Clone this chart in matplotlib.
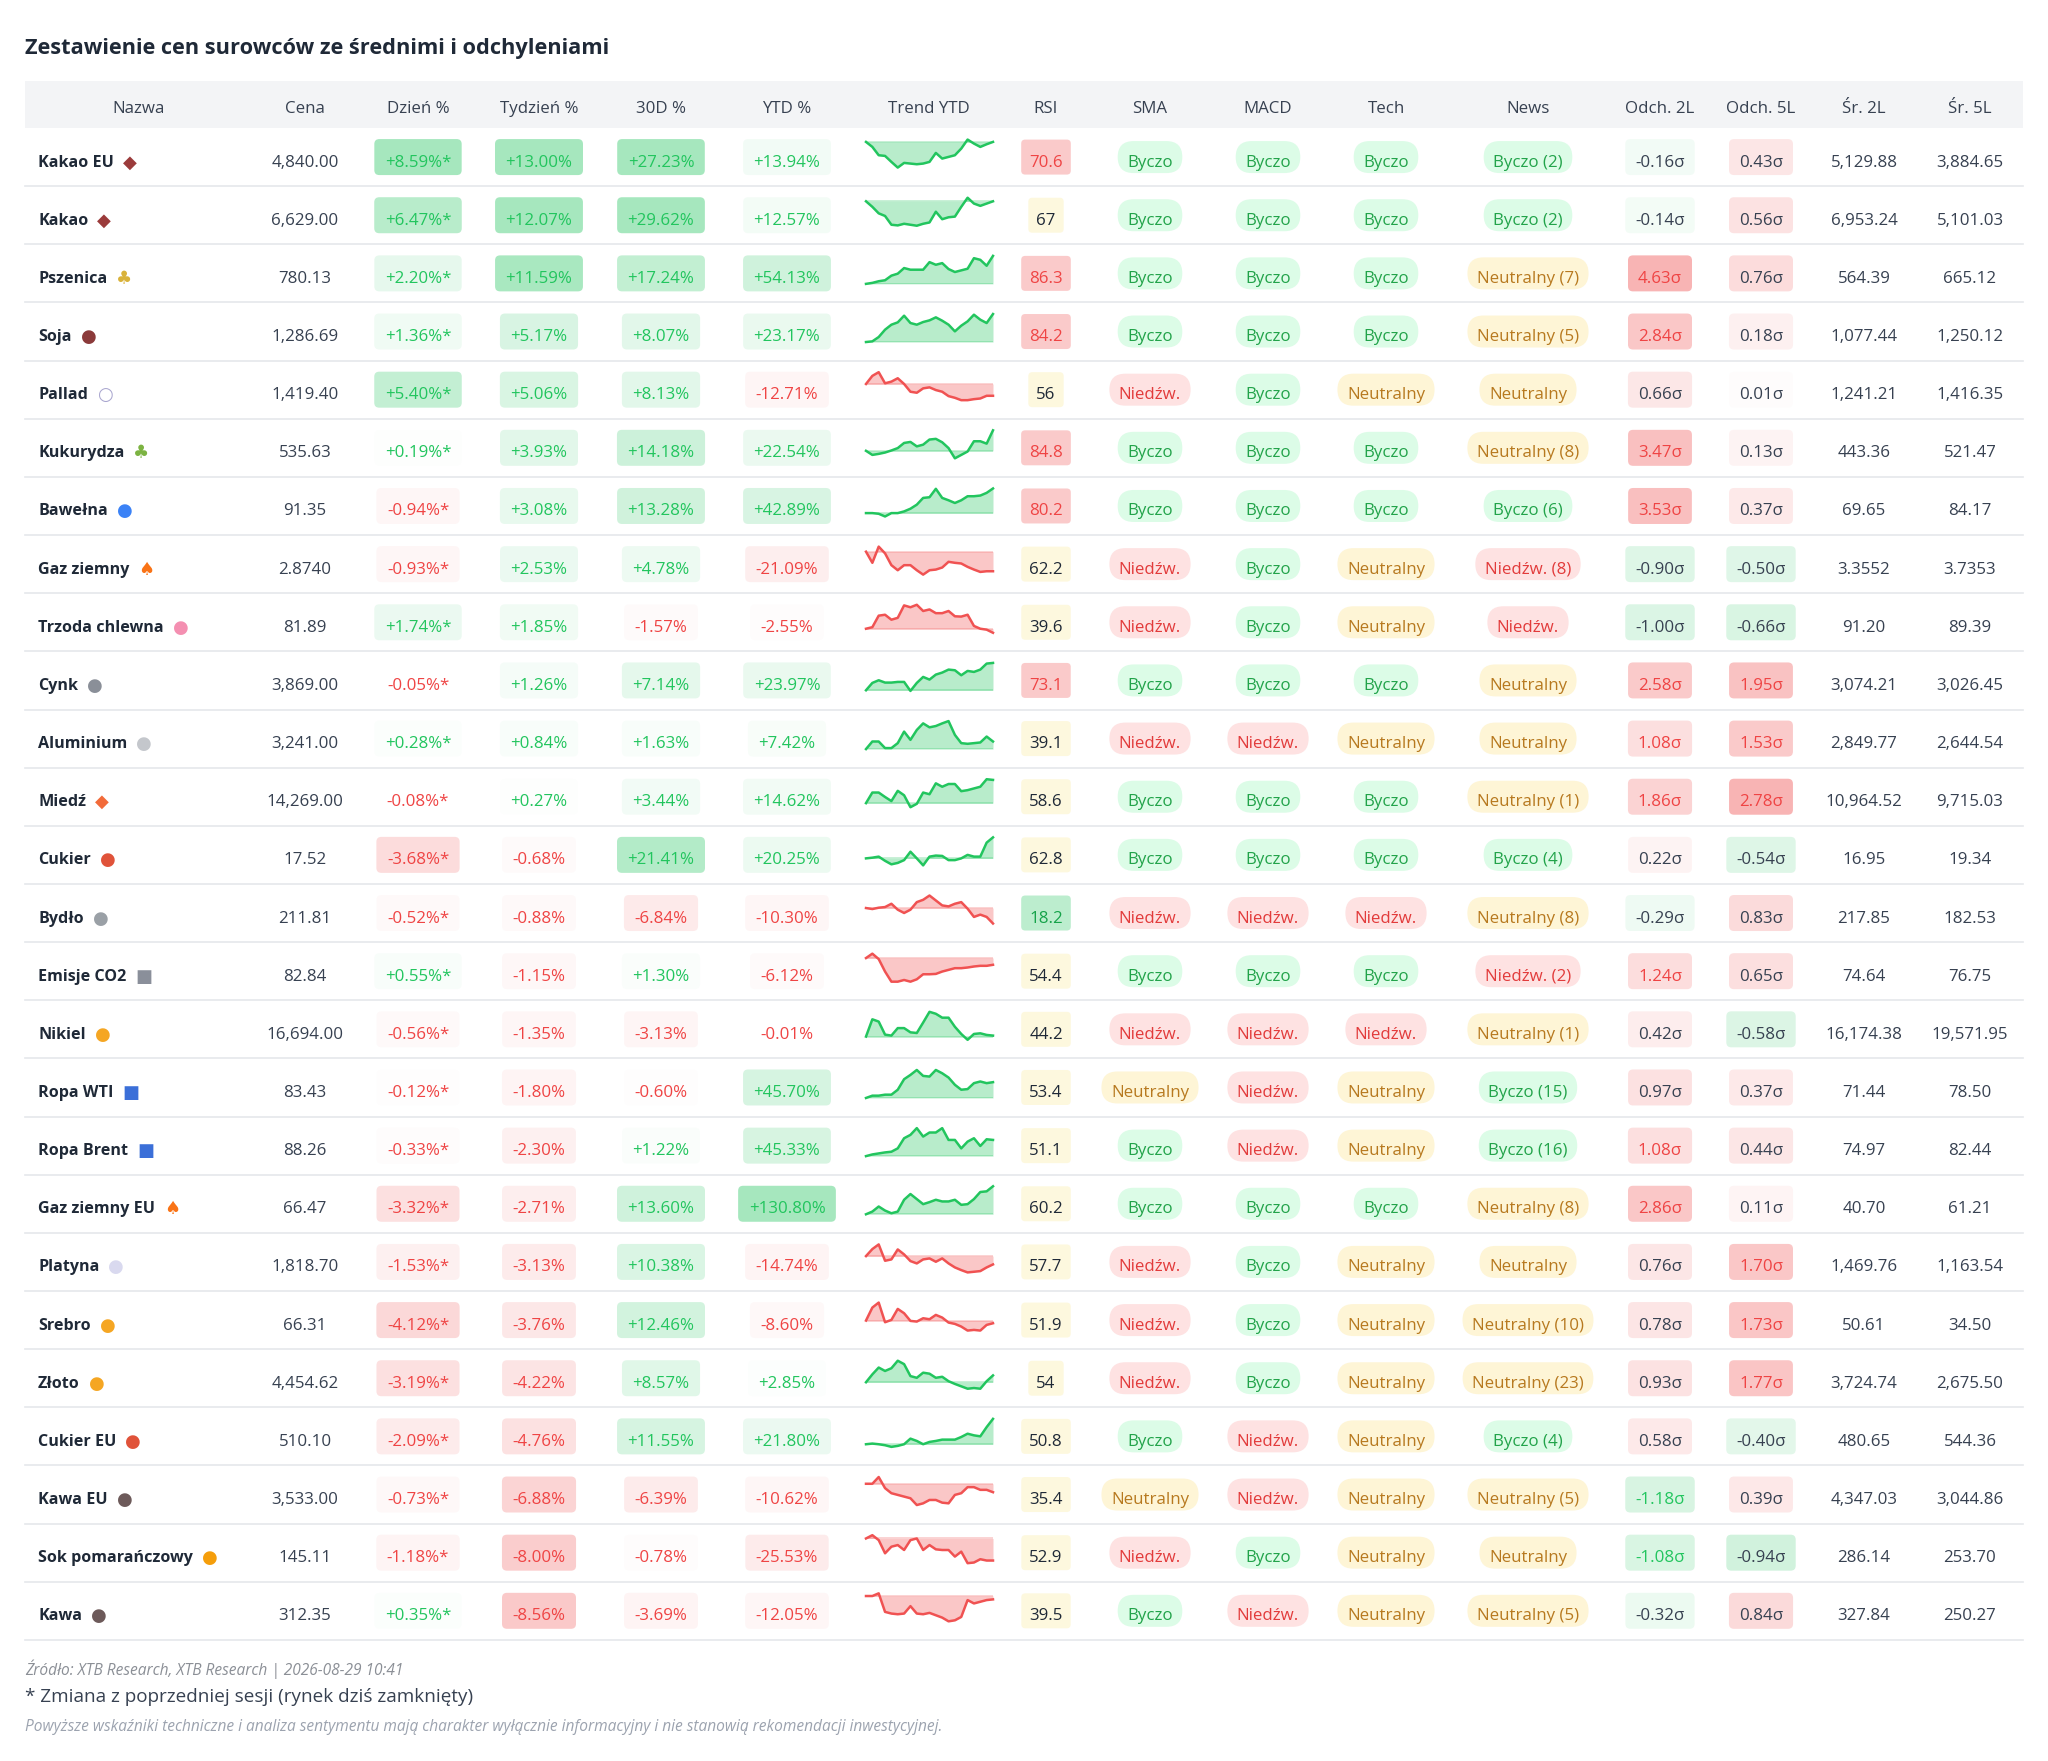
import matplotlib
matplotlib.use("Agg")
import matplotlib.pyplot as plt
from matplotlib.patches import FancyBboxPatch, Rectangle
from matplotlib.colors import to_rgba
import numpy as np

plt.rcParams['font.family'] = ['Open Sans', 'DejaVu Sans']

# ---- data ----
names = ["Kakao EU", "Kakao", "Pszenica", "Soja", "Pallad", "Kukurydza", "Bawełna",
         "Gaz ziemny", "Trzoda chlewna", "Cynk", "Aluminium", "Miedź", "Cukier", "Bydło",
         "Emisje CO2", "Nikiel", "Ropa WTI", "Ropa Brent", "Gaz ziemny EU", "Platyna",
         "Srebro", "Złoto", "Cukier EU", "Kawa EU", "Sok pomarańczowy", "Kawa"]
# stand-ins for the emoji (no colour emoji font available)
icon_chars = ["◆", "◆", "♣", "●", "○", "♣", "●", "♠", "●", "●", "●", "◆", "●", "●",
              "■", "●", "■", "■", "♠", "●", "●", "●", "●", "●", "●", "●"]
icon_colors = ["#9b3b3b", "#9b3b3b", "#d9b23a", "#8b3a3a", "#a9a6cf", "#7cb342", "#3b82f6",
               "#f97316", "#f48fb1", "#8a8f98", "#c4c7cc", "#f26b3a", "#e0533a", "#9aa0a6",
               "#8a8f9a", "#f5a623", "#3b6fd8", "#3b6fd8", "#f97316", "#d9d9ef",
               "#f5a623", "#f5a623", "#e0533a", "#6d5a5a", "#f59e0b", "#6d5a5a"]

prices = [4840.00, 6629.00, 780.13, 1286.69, 1419.40, 535.63, 91.35, 2.8740, 81.89,
          3869.00, 3241.00, 14269.00, 17.52, 211.81, 82.84, 16694.00, 83.43, 88.26,
          66.47, 1818.70, 66.31, 4454.62, 510.10, 3533.00, 145.11, 312.35]
day_pct = [8.59, 6.47, 2.20, 1.36, 5.40, 0.19, -0.94, -0.93, 1.74, -0.05, 0.28, -0.08, -3.68,
           -0.52, 0.55, -0.56, -0.12, -0.33, -3.32, -1.53, -4.12, -3.19, -2.09, -0.73, -1.18, 0.35]
week_pct = [13.00, 12.07, 11.59, 5.17, 5.06, 3.93, 3.08, 2.53, 1.85, 1.26, 0.84, 0.27, -0.68,
            -0.88, -1.15, -1.35, -1.80, -2.30, -2.71, -3.13, -3.76, -4.22, -4.76, -6.88, -8.00, -8.56]
d30_pct = [27.23, 29.62, 17.24, 8.07, 8.13, 14.18, 13.28, 4.78, -1.57, 7.14, 1.63, 3.44, 21.41,
           -6.84, 1.30, -3.13, -0.60, 1.22, 13.60, 10.38, 12.46, 8.57, 11.55, -6.39, -0.78, -3.69]
ytd_pct = [13.94, 12.57, 54.13, 23.17, -12.71, 22.54, 42.89, -21.09, -2.55, 23.97, 7.42, 14.62,
           20.25, -10.30, -6.12, -0.01, 45.70, 45.33, 130.80, -14.74, -8.60, 2.85, 21.80,
           -10.62, -25.53, -12.05]
rsi = [70.6, 67, 86.3, 84.2, 56, 84.8, 80.2, 62.2, 39.6, 73.1, 39.1, 58.6, 62.8, 18.2, 54.4,
       44.2, 53.4, 51.1, 60.2, 57.7, 51.9, 54, 50.8, 35.4, 52.9, 39.5]
# B = Byczo, D = Niedźw., N = Neutralny
sma = list("BBBBDBBDDBDBBDBDNBBDDDBNDB")
macd = list("BBBBBBBBBBDBBDBDDDBBBBDDBD")
tech = list("BBBBNBBNNBNBBDBDNNBNNNNNNN")
news = list("BBNNNNBDDNNNBNDNBBNNNNBNNN")
news_count = [2, 2, 7, 5, 0, 8, 6, 8, 0, 0, 0, 1, 4, 8, 2, 1, 15, 16, 8, 0, 10, 23, 4, 5, 0, 5]
dev_2y = [-0.16, -0.14, 4.63, 2.84, 0.66, 3.47, 3.53, -0.90, -1.00, 2.58, 1.08, 1.86, 0.22,
          -0.29, 1.24, 0.42, 0.97, 1.08, 2.86, 0.76, 0.78, 0.93, 0.58, -1.18, -1.08, -0.32]
dev_5y = [0.43, 0.56, 0.76, 0.18, 0.01, 0.13, 0.37, -0.50, -0.66, 1.95, 1.53, 2.78, -0.54, 0.83,
          0.65, -0.58, 0.37, 0.44, 0.11, 1.70, 1.73, 1.77, -0.40, 0.39, -0.94, 0.84]
avg_2y = [5129.88, 6953.24, 564.39, 1077.44, 1241.21, 443.36, 69.65, 3.3552, 91.20, 3074.21,
          2849.77, 10964.52, 16.95, 217.85, 74.64, 16174.38, 71.44, 74.97, 40.70, 1469.76,
          50.61, 3724.74, 480.65, 4347.03, 286.14, 327.84]
avg_5y = [3884.65, 5101.03, 665.12, 1250.12, 1416.35, 521.47, 84.17, 3.7353, 89.39, 3026.45,
          2644.54, 9715.03, 19.34, 182.53, 76.75, 19571.95, 78.50, 82.44, 61.21, 1163.54,
          34.50, 2675.50, 544.36, 3044.86, 253.70, 250.27]

# YTD trend, sampled evenly from the sparklines
trend = [
    [85, 70, 45, 43, 25, 8, 22, 20, 18, 20, 25, 52, 35, 40, 45, 65, 92, 80, 70, 78, 85],
    [87, 70, 50, 42, 15, 13, 18, 15, 12, 18, 22, 55, 32, 38, 40, 70, 98, 80, 73, 80, 87],
    [7, 10, 15, 18, 32, 38, 55, 50, 50, 50, 73, 65, 70, 52, 43, 48, 53, 85, 80, 62, 92],
    [8, 10, 23, 45, 60, 67, 87, 65, 60, 68, 73, 82, 72, 60, 40, 57, 70, 90, 75, 65, 92],
    [58, 82, 93, 60, 65, 75, 58, 35, 32, 45, 48, 40, 35, 22, 17, 10, 10, 13, 15, 23, 23],
    [37, 25, 28, 32, 38, 45, 60, 63, 50, 55, 70, 72, 62, 45, 15, 25, 35, 65, 65, 58, 97],
    [20, 20, 18, 10, 20, 20, 25, 33, 45, 65, 67, 92, 65, 58, 50, 58, 70, 70, 72, 80, 93],
    [85, 52, 100, 80, 45, 30, 45, 45, 30, 17, 30, 32, 38, 55, 52, 50, 40, 32, 25, 27, 27],
    [23, 28, 65, 68, 52, 58, 98, 92, 100, 80, 85, 73, 73, 80, 63, 62, 68, 32, 23, 20, 10],
    [10, 32, 40, 33, 33, 35, 35, 8, 32, 50, 42, 57, 63, 72, 70, 55, 68, 65, 72, 90, 92],
    [12, 35, 35, 15, 15, 30, 65, 40, 70, 90, 78, 82, 90, 97, 55, 30, 28, 30, 32, 50, 35],
    [22, 53, 53, 40, 28, 58, 45, 10, 20, 53, 48, 80, 70, 78, 78, 57, 60, 65, 70, 92, 90],
    [35, 37, 40, 28, 18, 22, 30, 54, 35, 15, 40, 43, 42, 30, 30, 35, 45, 40, 40, 80, 95],
    [57, 54, 58, 60, 70, 52, 42, 52, 75, 82, 95, 80, 65, 62, 70, 75, 55, 30, 37, 30, 10],
    [85, 98, 82, 45, 15, 15, 20, 15, 22, 37, 37, 38, 45, 50, 55, 55, 57, 60, 62, 62, 65],
    [22, 75, 68, 28, 25, 48, 48, 35, 33, 65, 98, 92, 80, 80, 52, 30, 12, 30, 32, 27, 25],
    [15, 22, 22, 25, 25, 40, 72, 85, 100, 82, 80, 100, 90, 77, 55, 40, 42, 60, 65, 60, 63],
    [12, 17, 20, 23, 25, 35, 65, 75, 95, 70, 82, 82, 95, 60, 60, 35, 55, 65, 42, 62, 60],
    [7, 15, 30, 18, 10, 15, 50, 67, 52, 37, 43, 50, 45, 45, 50, 35, 37, 52, 73, 75, 90],
    [62, 83, 97, 48, 52, 82, 67, 47, 40, 52, 55, 45, 55, 40, 28, 20, 13, 15, 17, 28, 37],
    [48, 87, 102, 43, 50, 83, 70, 47, 45, 55, 52, 65, 57, 42, 38, 30, 18, 20, 18, 35, 40],
    [37, 60, 80, 70, 78, 100, 90, 55, 50, 65, 62, 50, 53, 40, 32, 25, 18, 20, 18, 40, 57],
    [18, 20, 18, 15, 10, 13, 18, 35, 28, 18, 25, 28, 32, 32, 32, 40, 50, 45, 42, 70, 95],
    [78, 78, 98, 65, 50, 45, 40, 35, 15, 20, 30, 30, 22, 20, 45, 50, 68, 68, 60, 60, 53],
    [95, 105, 90, 50, 70, 75, 60, 90, 95, 60, 75, 62, 60, 60, 40, 55, 20, 22, 32, 28, 28],
    [92, 92, 100, 45, 40, 38, 40, 62, 40, 38, 42, 35, 28, 17, 20, 30, 80, 70, 75, 80, 82],
]

headers = ["Nazwa", "Cena", "Dzień %", "Tydzień %", "30D %", "YTD %", "Trend YTD", "RSI",
           "SMA", "MACD", "Tech", "News", "Odch. 2L", "Odch. 5L", "Śr. 2L", "Śr. 5L"]
col_x = [139, 305, 418, 539, 661, 787, 929, 1046, 1150, 1268, 1386, 1528, 1660, 1761, 1864, 1970]

# ---- layout / styles ----
W, H = 2048, 1761
LEFT, RIGHT = 25, 2023
HEAD_TOP, HEAD_BOT = 81, 128
ROW_H = 58.15
FS = 12.2
BASE = 9.5          # baseline offset below the row centre
GREEN, RED = '#22c55e', '#ef4444'
DARK, TXT = '#1f2937', '#374151'
SENT = {'B': ('Byczo', '#dcfce7', '#22a34a'),
        'D': ('Niedźw.', '#fee2e2', '#e23b3b'),
        'N': ('Neutralny', '#fef5d6', '#b7791f')}

fig = plt.figure(figsize=(W / 100, H / 100), dpi=100)
ax = fig.add_axes([0, 0, 1, 1])
ax.set_xlim(0, W)
ax.set_ylim(H, 0)
ax.axis('off')
renderer = fig.canvas.get_renderer()


def fmt_num(v):
    return f"{v:,.4f}" if abs(v) < 10 else f"{v:,.2f}"


def cell_text(x, y, s, color=TXT, ha='center', **kw):
    return ax.text(x, y + BASE, s, ha=ha, va='baseline', color=color, fontsize=kw.pop('fs', FS),
                   zorder=4, **kw)


def badge(x, y, s, color, bg=None, pad=10.5, h=36, r=5):
    t = cell_text(x, y, s, color)
    w = t.get_window_extent(renderer).width
    if bg is not None and bg[3] > 0.004:
        ax.add_patch(FancyBboxPatch((x - w / 2 - pad, y - h / 2), w + 2 * pad, h,
                                    boxstyle=f"round,pad=0,rounding_size={r}",
                                    fc=bg, ec='none', zorder=3))
    return t


def pct_cell(x, y, v, scale, star=False):
    col = GREEN if v >= 0 else RED
    a = 0.4 * min(abs(v) / scale, 1.0)
    s = f"{v:+.2f}%" + ("*" if star else "")
    badge(x, y, s, col, to_rgba(col, a))


def dev_cell(x, y, v, vmax):
    base = RED if v > 0 else GREEN
    a = 0.4 * min(abs(v) / vmax, 1.0) ** 0.6
    tc = (RED if v > 0 else GREEN) if abs(v) > 1.0 else TXT
    badge(x, y, f"{v:.2f}σ", tc, to_rgba(base, a), pad=10)


# title
ax.text(LEFT, 54, "Zestawienie cen surowców ze średnimi i odchyleniami", fontsize=15.7,
        fontweight='bold', color=DARK, ha='left', va='baseline')

# header band
ax.add_patch(Rectangle((LEFT, HEAD_TOP), RIGHT - LEFT, HEAD_BOT - HEAD_TOP, fc='#f3f4f6',
                       ec='none', zorder=1))
for hx, ht in zip(col_x, headers):
    ax.text(hx, 113, ht, ha='center', va='baseline', fontsize=FS, color=TXT, zorder=2)

max2 = max(abs(v) for v in dev_2y)
max5 = max(abs(v) for v in dev_5y)

for i, name in enumerate(names):
    top = HEAD_BOT + i * ROW_H
    cy = top + ROW_H / 2
    ax.plot([LEFT, RIGHT], [top + ROW_H, top + ROW_H], color='#e5e7eb', lw=1.2, zorder=1)

    t = cell_text(38, cy, name, color=DARK, ha='left', fs=11.6, fontweight='bold')
    nw = t.get_window_extent(renderer).width
    cell_text(38 + nw + 9, cy + 1, icon_chars[i], color=icon_colors[i], ha='left', fs=13,
              family='DejaVu Sans')

    cell_text(col_x[1], cy, fmt_num(prices[i]))
    pct_cell(col_x[2], cy, day_pct[i], 8.0, star=True)
    pct_cell(col_x[3], cy, week_pct[i], 12.0)
    pct_cell(col_x[4], cy, d30_pct[i], 25.0)
    pct_cell(col_x[5], cy, ytd_pct[i], 100.0)

    # sparkline in its own small axes
    vals = np.array(trend[i], dtype=float)
    up = vals[-1] >= vals[0]
    lc = GREEN if up else '#f05252'
    sx0, sx1 = 866, 993
    sy_top, sy_bot = cy - 17.5, cy + 10.5
    sax = fig.add_axes([sx0 / W, 1 - sy_bot / H, (sx1 - sx0) / W, (sy_bot - sy_top) / H])
    xs = np.arange(len(vals))
    sax.fill_between(xs, vals, vals[0], color=lc, alpha=0.32, lw=0)
    sax.axhline(vals[0], color=lc, alpha=0.25, lw=1.4)
    sax.plot(xs, vals, color=lc, lw=1.8, clip_on=False, solid_joinstyle='round')
    sax.set_xlim(0, len(vals) - 1)
    sax.set_ylim(vals.min(), vals.max())
    sax.axis('off')

    # RSI
    r = rsi[i]
    if r > 70:
        rc, rbg = RED, to_rgba(RED, 0.28)
    elif r < 30:
        rc, rbg = '#16a34a', to_rgba(GREEN, 0.3)
    else:
        rc, rbg = DARK, to_rgba('#fdf6d3', 0.75)
    badge(col_x[7], cy, f"{r:g}", rc, rbg, pad=8, h=35, r=4)

    for k, code in ((8, sma[i]), (9, macd[i]), (10, tech[i])):
        lab, bg, fc = SENT[code]
        badge(col_x[k], cy, lab, fc, to_rgba(bg), pad=9.5, h=32, r=16)
    lab, bg, fc = SENT[news[i]]
    if news_count[i]:
        lab = f"{lab} ({news_count[i]})"
    badge(col_x[11], cy, lab, fc, to_rgba(bg), pad=9.5, h=32, r=16)

    dev_cell(col_x[12], cy, dev_2y[i], max2)
    dev_cell(col_x[13], cy, dev_5y[i], max5)
    cell_text(col_x[14], cy, fmt_num(avg_2y[i]))
    cell_text(col_x[15], cy, fmt_num(avg_5y[i]))

# footer
ax.text(LEFT, 1669, "Źródło: XTB Research, XTB Research | 2026-08-29 10:41", fontsize=11.2,
        style='italic', color='#8b8f96', ha='left', va='center')
ax.text(LEFT, 1697, "* Zmiana z poprzedniej sesji (rynek dziś zamknięty)", fontsize=13.6,
        color=TXT, ha='left', va='center')
ax.text(LEFT, 1727, "Powyższe wskaźniki techniczne i analiza sentymentu mają charakter wyłącznie "
        "informacyjny i nie stanowią rekomendacji inwestycyjnej.", fontsize=11.2,
        style='italic', color='#9ca3af', ha='left', va='center')

fig.savefig("out.png", dpi=100, facecolor='white')
